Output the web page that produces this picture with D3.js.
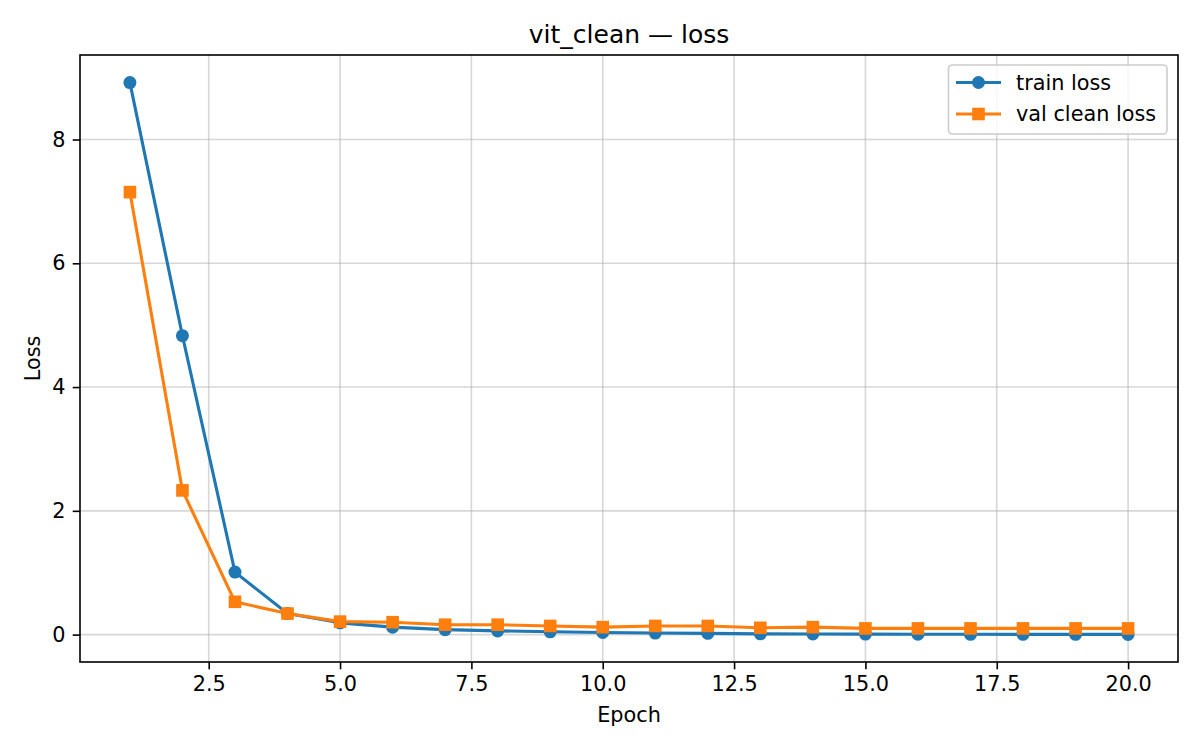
<!DOCTYPE html>
<html>
<head>
<meta charset="utf-8">
<script src="https://cdn.jsdelivr.net/npm/d3@7"></script>
<style>
  body { margin: 0; background: #fff; }
  text { font-family: "DejaVu Sans", sans-serif; fill: #000; }
</style>
</head>
<body>
<div id="chart"></div>
<script>
// Values
const epochs = d3.range(1, 21);
const trainLoss = [8.92, 4.83, 1.01, 0.34, 0.19, 0.12, 0.08, 0.06, 0.045, 0.035,
                   0.025, 0.02, 0.012, 0.01, 0.008, 0.006, 0.005, 0.004, 0.004, 0.003];
const valLoss = [7.15, 2.33, 0.53, 0.34, 0.21, 0.20, 0.16, 0.16, 0.14, 0.12,
                 0.14, 0.14, 0.11, 0.12, 0.10, 0.10, 0.10, 0.10, 0.10, 0.10];
const xTicks = [2.5, 5.0, 7.5, 10.0, 12.5, 15.0, 17.5, 20.0];
const yTicks = [0, 2, 4, 6, 8];
const seriesNames = ["train loss", "val clean loss"];
const seriesColors = ["#1f77b4", "#ff7f0e"];

const W = 1200, H = 750;
const plot = { left: 80, right: 1178, top: 55, bottom: 662 };

const svg = d3.select("#chart").append("svg")
  .attr("width", W).attr("height", H);

// matplotlib-like 5% margins
const xMin = d3.min(epochs), xMax = d3.max(epochs);
const xPad = (xMax - xMin) * 0.05;
const x = d3.scaleLinear().domain([xMin - xPad, xMax + xPad]).range([plot.left, plot.right]);
const allY = trainLoss.concat(valLoss);
const yMin = d3.min(allY), yMax = d3.max(allY);
const yPad = (yMax - yMin) * 0.05;
const y = d3.scaleLinear().domain([yMin - yPad, yMax + yPad]).range([plot.bottom, plot.top]);

// grid
const grid = svg.append("g");
grid.selectAll(".gx").data(xTicks).join("line")
  .attr("x1", d => x(d)).attr("x2", d => x(d))
  .attr("y1", plot.top).attr("y2", plot.bottom)
  .attr("stroke", "#b0b0b0").attr("stroke-opacity", 0.5).attr("stroke-width", 1.6);
grid.selectAll(".gy").data(yTicks).join("line")
  .attr("y1", d => y(d)).attr("y2", d => y(d))
  .attr("x1", plot.left).attr("x2", plot.right)
  .attr("stroke", "#b0b0b0").attr("stroke-opacity", 0.5).attr("stroke-width", 1.6);

// series
const series = [trainLoss, valLoss];
const line = d3.line().x((d, i) => x(epochs[i])).y(d => y(d));
const clip = svg.append("clipPath").attr("id", "clip").append("rect")
  .attr("x", plot.left).attr("y", plot.top)
  .attr("width", plot.right - plot.left).attr("height", plot.bottom - plot.top);

function marker(g, k, cx, cy) {
  if (k === 0) {
    g.append("circle").attr("cx", cx).attr("cy", cy).attr("r", 6.5)
      .attr("fill", seriesColors[k]);
  } else {
    g.append("rect").attr("x", cx - 6.3).attr("y", cy - 6.3)
      .attr("width", 12.6).attr("height", 12.6).attr("fill", seriesColors[k]);
  }
}

series.forEach((vals, k) => {
  const g = svg.append("g");
  g.append("path").datum(vals)
    .attr("d", line)
    .attr("fill", "none")
    .attr("stroke", seriesColors[k])
    .attr("stroke-width", 3.1)
    .attr("stroke-linejoin", "round")
    .attr("stroke-linecap", "square");
  vals.forEach((v, i) => marker(g, k, x(epochs[i]), y(v)));
});

// axes
const xAxis = svg.append("g")
  .attr("transform", `translate(0,${plot.bottom})`)
  .call(d3.axisBottom(x).tickValues(xTicks).tickFormat(d3.format(".1f"))
    .tickSize(7.3).tickPadding(7.3).tickSizeOuter(0));
const yAxis = svg.append("g")
  .attr("transform", `translate(${plot.left},0)`)
  .call(d3.axisLeft(y).tickValues(yTicks).tickFormat(d3.format("d"))
    .tickSize(7.3).tickPadding(7.3).tickSizeOuter(0));
[xAxis, yAxis].forEach(a => {
  a.select(".domain").remove();
  a.selectAll(".tick line").attr("stroke", "#000").attr("stroke-width", 1.6);
  a.selectAll(".tick text").attr("font-size", 20.8)
    .attr("font-family", "DejaVu Sans").attr("fill", "#000");
});

// spines
svg.append("rect")
  .attr("x", plot.left).attr("y", plot.top)
  .attr("width", plot.right - plot.left).attr("height", plot.bottom - plot.top)
  .attr("fill", "none").attr("stroke", "#000").attr("stroke-width", 1.6);

// title and labels
svg.append("text").attr("x", (plot.left + plot.right) / 2).attr("y", 43)
  .attr("text-anchor", "middle").attr("font-size", 25).text("vit_clean — loss");
svg.append("text").attr("x", (plot.left + plot.right) / 2).attr("y", 722)
  .attr("text-anchor", "middle").attr("font-size", 20.8).text("Epoch");
svg.append("text")
  .attr("transform", `translate(40,${(plot.top + plot.bottom) / 2}) rotate(-90)`)
  .attr("text-anchor", "middle").attr("font-size", 20.8).text("Loss");

// legend
const lg = svg.append("g");
lg.append("rect").attr("x", 948.5).attr("y", 65).attr("width", 218.5).attr("height", 69)
  .attr("rx", 4).attr("fill", "#fff").attr("fill-opacity", 0.8)
  .attr("stroke", "#cccccc").attr("stroke-width", 1.6);
seriesNames.forEach((name, k) => {
  const cy = 82.5 + k * 31.5;
  lg.append("line").attr("x1", 956).attr("x2", 1001).attr("y1", cy).attr("y2", cy)
    .attr("stroke", seriesColors[k]).attr("stroke-width", 3.1);
  marker(lg, k, 978.5, cy);
  lg.append("text").attr("x", 1016).attr("y", cy).attr("dy", "0.36em")
    .attr("font-size", 20.8).text(name);
});
</script>
</body>
</html>
